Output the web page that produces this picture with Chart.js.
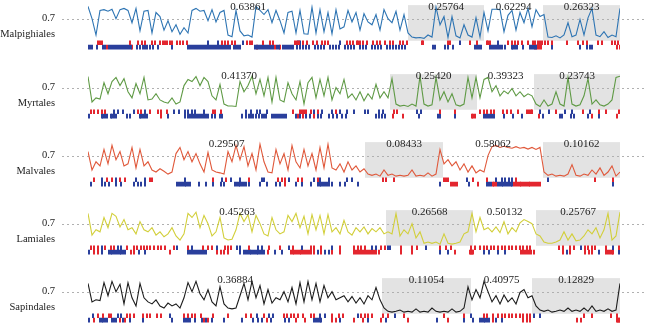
<!DOCTYPE html>
<html>
<head>
<meta charset="utf-8">
<script src="https://cdn.jsdelivr.net/npm/chart.js@4.4.1/dist/chart.umd.min.js"></script>
<style>
  html, body { margin: 0; padding: 0; background: #fff; overflow: hidden; }
  #wrap { position: relative; width: 645px; height: 324px; }
  #wrap canvas { position: absolute; left: 0; }
</style>
</head>
<body>
<div id="wrap">
  <canvas id="p1" width="645" height="68" style="top:0px"></canvas>
  <canvas id="p2" width="645" height="68" style="top:69px"></canvas>
  <canvas id="p3" width="645" height="68" style="top:137px"></canvas>
  <canvas id="p4" width="645" height="68" style="top:205px"></canvas>
  <canvas id="p5" width="645" height="68" style="top:273px"></canvas>
</div>
<script>
// sequence positions run 0..532, the score is sampled every 4 positions
const seqLength = 532;
const sampleStep = 4;

// ---- Malpighiales
const malpValues = [
  1.0, 0.7, 0.3, 0.9, 0.92, 0.88, 0.93, 0.7, 0.92, 0.95,
  0.9, 0.6, 0.95, 0.4, 0.88, 0.9, 0.35, 0.85, 0.75, 0.42,
  0.65, 0.38, 0.55, 0.32, 0.48, 0.35, 0.9, 0.95, 0.88, 0.9,
  0.65, 0.92, 0.62, 0.85, 0.9, 0.3, 0.26, 0.9, 0.4, 0.28,
  0.3, 0.25, 1.0, 0.9, 0.8, 0.92, 0.6, 0.9, 0.65, 0.35,
  0.85, 0.88, 0.35, 0.9, 0.33, 0.32, 0.98, 0.35, 0.92, 0.38,
  0.85, 0.33, 0.92, 0.45, 0.5, 0.9, 0.62, 0.85, 0.42, 0.82,
  0.62, 0.55, 0.8, 0.42, 0.92, 0.7, 0.6, 0.88, 0.42, 0.8,
  0.35, 0.25, 0.23, 0.24, 0.22, 0.3, 0.25, 0.98, 0.55, 0.75,
  0.24, 0.75, 0.28, 0.23, 0.55, 0.3, 0.25, 0.72, 0.25, 0.85,
  0.4, 0.93, 0.93, 0.92, 0.38, 0.78, 0.9, 0.42, 0.85, 0.6,
  0.95, 0.5, 0.92, 0.75, 0.8, 0.25, 0.24, 0.28, 0.23, 0.3,
  0.6, 0.26, 0.3, 0.68, 0.3, 0.72, 0.95, 0.3, 0.26, 0.38,
  0.24, 0.3, 0.26, 0.95
];
const malpRegions = [320, 396, 455, 532];
const malpMeans = ['0.63861', '0.25764', '0.62294', '0.26323'];
const malpTopRed = [10, 12, 14, 42, 50, 54, 57, 64, 67, 72, 75, 77, 79, 82, 84, 89, 92, 95, 99, 134, 137, 140, 144, 147, 159, 162, 164, 175, 182, 185, 207, 209, 211, 215, 219, 225, 229, 234, 237, 240, 259, 262, 265, 269, 270, 272, 275, 279, 285, 289, 292, 297, 302, 305, 312, 315, 319, 334, 335, 360, 362, 382, 389, 399, 400, 402, 420, 424, 427, 430, 434, 440, 445, 447, 450, 452, 454, 457, 460, 464, 479, 490, 495, 499, 510, 514, 524, 527, 530];
const malpTopBlue = [120, 130, 155, 210, 212, 252, 372, 410];
const malpBottomBlue = [0, 2, 4, 9, 15, 17, 21, 23, 25, 27, 29, 31, 33, 35, 37, 39, 41, 43, 49, 52, 55, 57, 59, 62, 65, 70, 84, 100, 102, 104, 106, 108, 110, 112, 114, 116, 118, 120, 122, 124, 126, 128, 130, 132, 134, 136, 138, 140, 142, 146, 148, 150, 152, 167, 169, 171, 173, 175, 177, 179, 181, 183, 185, 189, 191, 195, 197, 199, 201, 203, 205, 209, 212, 215, 218, 221, 227, 230, 233, 236, 242, 245, 248, 251, 257, 260, 263, 266, 272, 275, 278, 284, 287, 290, 293, 299, 302, 305, 308, 311, 314, 317, 345, 347, 357, 360, 365, 387, 389, 391, 393, 402, 404, 406, 408, 410, 412, 414, 417, 424, 425, 427, 429, 435, 442, 444, 446, 448, 464, 492, 499, 502, 504];
const malpBottomRed = [19, 44, 169, 187, 192, 447, 449, 451, 453, 529, 532];

// ---- Myrtales
const myrtValues = [
  0.97, 0.35, 0.45, 0.42, 0.82, 0.55, 0.85, 0.95, 0.75, 0.92,
  0.6, 0.45, 0.8, 0.55, 0.95, 0.4, 0.42, 0.55, 0.4, 0.35,
  0.32, 0.45, 0.3, 0.35, 0.75, 0.9, 0.85, 0.97, 0.75, 0.95,
  0.85, 0.5, 0.4, 0.78, 0.3, 0.25, 0.25, 0.24, 0.85, 0.6,
  0.75, 0.98, 0.55, 0.9, 0.5, 0.95, 0.35, 0.95, 0.4, 0.35,
  0.82, 0.55, 0.4, 0.85, 0.3, 0.82, 0.95, 0.45, 0.9, 0.5,
  0.95, 0.4, 0.7, 0.55, 0.9, 0.45, 0.55, 0.4, 0.6, 0.38,
  0.55, 0.42, 0.78, 0.45, 0.6, 0.45, 0.92, 0.3, 0.25, 0.27,
  0.24, 0.3, 0.25, 0.98, 0.3, 0.25, 0.28, 0.95, 0.4, 0.6,
  0.35, 0.55, 0.28, 0.25, 0.3, 0.95, 0.45, 0.95, 0.45, 0.9,
  0.95, 0.6, 0.75, 0.5, 0.62, 0.55, 0.68, 0.5, 0.6, 0.48,
  0.55, 0.5, 0.3, 0.24, 0.4, 0.25, 0.3, 0.6, 0.3, 0.25,
  0.95, 0.3, 0.25, 0.28, 0.5, 0.92, 0.3, 0.4, 0.28, 0.25,
  0.3, 0.4, 0.95, 0.98
];
const myrtRegions = [302, 389, 446, 532];
const myrtMeans = ['0.41370', '0.25420', '0.39323', '0.23743'];
const myrtTopRed = [3, 6, 10, 14, 17, 50, 53, 62, 70, 73, 79, 125, 127, 133, 205, 212, 214, 216, 218, 223, 230, 248, 306, 309, 352, 367, 392, 396, 399, 403, 406, 415, 419, 423, 430, 439, 441, 443, 444, 468, 495, 511, 518, 531];
const myrtTopBlue = [26, 30, 35, 46, 57, 86, 91, 97, 100, 104, 107, 116, 158, 163, 169, 172, 179, 226, 234, 244, 252, 259, 266, 277, 280, 291, 295, 329, 333, 452, 461, 477, 484, 502];
const myrtBottomBlue = [1, 14, 15, 17, 19, 23, 24, 26, 28, 39, 42, 52, 53, 55, 57, 59, 80, 97, 100, 102, 104, 106, 108, 110, 112, 114, 116, 118, 120, 124, 127, 132, 134, 154, 158, 161, 163, 165, 168, 171, 174, 176, 178, 184, 186, 188, 190, 192, 194, 196, 198, 208, 212, 218, 222, 230, 233, 241, 245, 249, 254, 258, 288, 291, 294, 297, 331, 350, 352, 367, 396, 398, 400, 402, 404, 406, 416, 425, 434, 455, 472, 474, 483, 486, 500, 511];
const myrtBottomRed = [73, 210, 215, 226, 305, 315, 384, 385, 387, 451, 504, 529];

// ---- Malvales
const malvValues = [
  0.8, 0.35, 0.55, 0.45, 0.85, 0.5, 0.95, 0.6, 0.8, 0.45,
  0.5, 0.9, 0.4, 0.85, 0.45, 0.55, 0.35, 0.3, 0.38, 0.32,
  0.25, 0.3, 0.75, 0.9, 0.6, 0.8, 0.55, 0.75, 0.5, 0.3,
  0.78, 0.35, 0.3, 0.28, 0.25, 0.8, 0.55, 0.95, 0.6, 0.92,
  0.45, 0.75, 0.35, 0.98, 0.55, 0.3, 0.28, 0.85, 0.5, 0.75,
  0.35, 0.95, 0.55, 0.4, 0.85, 0.45, 0.75, 0.35, 0.9, 0.4,
  0.98, 0.4, 0.35, 0.5, 0.3, 0.55, 0.35, 0.45, 0.3, 0.38,
  0.25, 0.22, 0.25, 0.2, 0.35, 0.22, 0.25, 0.2, 0.22, 0.2,
  0.22, 0.35, 0.2, 0.22, 0.2, 0.28, 0.2, 0.25, 0.85, 0.5,
  0.6, 0.45, 0.55, 0.35, 0.5, 0.3, 0.45, 0.28, 0.35, 0.3,
  0.7, 0.92, 0.95, 0.9, 0.93, 0.9, 0.88, 0.92, 0.88, 0.9,
  0.86, 0.9, 0.85, 0.9, 0.3, 0.22, 0.25, 0.2, 0.22, 0.2,
  0.25, 0.48, 0.22, 0.2, 0.25, 0.22, 0.35, 0.25, 0.4, 0.22,
  0.3, 0.45, 0.2, 0.3
];
const malvRegions = [277, 355, 455, 532];
const malvMeans = ['0.29507', '0.08433', '0.58062', '0.10162'];
const malvTopRed = [6, 19, 24, 32, 37, 62, 64, 125, 138, 161, 190, 194, 197, 210, 214, 230, 295, 298, 306, 356, 358, 360, 385, 399, 428, 507, 525];
const malvTopBlue = [14, 28, 48, 57, 97, 134, 143, 152, 174, 176, 201, 226, 232, 241, 259, 264, 379, 408, 414, 417, 421, 424, 460];
const malvBottomBlue = [3, 14, 17, 21, 28, 33, 46, 50, 53, 57, 89, 91, 93, 95, 97, 98, 100, 102, 111, 118, 125, 133, 136, 147, 149, 151, 152, 154, 156, 158, 161, 172, 179, 188, 192, 208, 214, 223, 230, 232, 233, 235, 237, 239, 241, 244, 252, 257, 270, 352, 381, 399, 401, 403, 410, 412, 414, 415, 417, 419, 421, 423, 424, 525];
const malvBottomRed = [197, 363, 365, 367, 369, 390, 405, 406, 408, 426, 428, 430, 432, 433, 435, 437, 439, 441, 442, 444, 446, 448, 450, 452];

// ---- Lamiales
const lamiValues = [
  0.95, 0.42, 0.55, 0.5, 0.85, 0.6, 0.95, 0.88, 0.62, 0.8,
  0.55, 0.6, 0.45, 0.75, 0.55, 0.5, 0.6, 0.42, 0.5, 0.38,
  0.45, 0.6, 0.4, 0.3, 0.45, 0.95, 0.85, 0.98, 0.6, 0.9,
  0.7, 0.4, 0.5, 0.85, 0.35, 0.3, 0.32, 0.55, 0.95, 0.75,
  0.92, 0.5, 0.9, 0.7, 0.45, 0.4, 0.85, 0.55, 0.45, 0.5,
  0.9, 0.75, 0.95, 0.6, 0.88, 0.45, 0.92, 0.55, 0.9, 0.45,
  0.92, 0.5, 0.6, 0.45, 0.78, 0.5, 0.42, 0.6, 0.5, 0.62,
  0.45, 0.58, 0.5, 0.6, 0.45, 0.5, 0.45, 0.95, 0.4, 0.55,
  0.45, 0.7, 0.35, 0.5, 0.22, 0.25, 0.22, 0.25, 0.2, 0.45,
  0.22, 0.2, 0.22, 0.25, 0.45, 0.5, 0.95, 0.5, 0.85, 0.55,
  0.6, 0.5, 0.62, 0.48, 0.75, 0.45, 0.6, 0.5, 0.72, 0.8,
  0.75, 0.7, 0.45, 0.4, 0.25, 0.22, 0.22, 0.25, 0.3, 0.5,
  0.3, 0.45, 0.28, 0.3, 0.4, 0.55, 0.45, 0.6, 0.35, 0.55,
  0.95, 0.3, 0.4, 0.98
];
const lamiRegions = [298, 385, 448, 532];
const lamiMeans = ['0.45263', '0.26568', '0.50132', '0.25767'];
const lamiTopRed = [3, 6, 10, 17, 23, 26, 39, 46, 49, 53, 56, 59, 62, 66, 70, 73, 77, 86, 100, 115, 120, 124, 137, 140, 143, 161, 181, 192, 205, 223, 226, 233, 252, 266, 270, 273, 277, 293, 297, 313, 324, 329, 352, 358, 363, 383, 387, 392, 396, 399, 403, 406, 410, 414, 417, 421, 424, 428, 432, 435, 439, 442, 471, 475, 482, 486, 497, 500, 504, 507, 518, 531];
const lamiTopBlue = [14, 30, 33, 89, 104, 129, 149, 152, 170, 174, 201, 214, 244, 284, 288, 300, 302, 338, 493, 525];
const lamiBottomBlue = [1, 14, 21, 23, 24, 26, 28, 30, 32, 33, 35, 37, 51, 57, 100, 102, 104, 106, 108, 110, 112, 114, 116, 118, 152, 156, 158, 160, 162, 163, 165, 167, 169, 170, 172, 174, 176, 187, 194, 230, 237, 241, 352, 360, 396, 401, 410, 417, 479, 511, 531];
const lamiBottomRed = [6, 10, 43, 46, 82, 129, 133, 136, 140, 180, 203, 205, 206, 208, 210, 212, 213, 215, 217, 219, 221, 223, 226, 233, 244, 252, 266, 268, 270, 272, 274, 276, 278, 280, 282, 284, 286, 288, 291, 313, 324, 367, 382, 383, 384, 385, 433, 435, 437, 439, 441, 443, 446, 475, 482, 497, 501, 504, 518, 520, 522, 524, 525];

// ---- Sapindales
const sapiValues = [
  0.9, 0.45, 0.5, 0.48, 0.92, 0.6, 0.95, 0.7, 0.88, 0.4,
  0.92, 0.55, 0.35, 0.9, 0.55, 0.45, 0.4, 0.5, 0.35, 0.3,
  0.42, 0.35, 0.4, 0.3, 0.55, 0.92, 0.7, 0.95, 0.65, 0.5,
  0.75, 0.45, 0.35, 0.82, 0.4, 0.3, 0.28, 0.3, 0.6, 0.9,
  0.5, 0.95, 0.55, 0.85, 0.4, 0.75, 0.42, 0.55, 0.5, 0.7,
  0.45, 0.8, 0.4, 0.92, 0.45, 0.95, 0.5, 0.9, 0.45, 0.85,
  0.55, 0.7, 0.5, 0.55, 0.6, 0.45, 0.58, 0.42, 0.55, 0.4,
  0.6, 0.5, 0.8, 0.5, 0.3, 0.22, 0.2, 0.22, 0.25, 0.2,
  0.22, 0.2, 0.28, 0.2, 0.22, 0.2, 0.3, 0.22, 0.2, 0.22,
  0.2, 0.28, 0.2, 0.22, 0.3, 0.82, 0.5, 0.75, 0.55, 0.95,
  0.7, 0.45, 0.6, 0.4, 0.62, 0.45, 0.55, 0.4, 0.68, 0.75,
  0.55, 0.6, 0.35, 0.25, 0.22, 0.25, 0.2, 0.22, 0.25, 0.22,
  0.3, 0.22, 0.25, 0.22, 0.3, 0.22, 0.35, 0.22, 0.25, 0.22,
  0.28, 0.22, 0.25, 0.9
];
const sapiRegions = [294, 383, 444, 532];
const sapiMeans = ['0.36884', '0.11054', '0.40975', '0.12829'];
const sapiTopRed = [10, 15, 21, 23, 39, 42, 46, 55, 59, 62, 69, 73, 96, 100, 104, 107, 113, 125, 140, 158, 163, 176, 196, 199, 203, 206, 210, 215, 223, 226, 244, 251, 255, 273, 277, 280, 284, 295, 300, 316, 356, 376, 396, 399, 405, 410, 414, 417, 421, 424, 428, 432, 435, 439, 442, 496, 504, 523, 529];
const sapiTopBlue = [5, 30, 33, 82, 169, 181, 185, 232, 237, 270, 307, 383, 446, 452];
const sapiBottomBlue = [1, 12, 14, 15, 17, 19, 24, 26, 28, 35, 42, 55, 84, 96, 98, 100, 102, 107, 114, 118, 124, 136, 154, 165, 170, 174, 183, 197, 201, 226, 228, 230, 232, 233, 252, 280, 298, 349, 376, 385, 392, 394, 396, 397, 399, 401, 408, 414];
const sapiBottomRed = [6, 32, 37, 116, 120, 179, 208, 217, 244, 248, 266, 275, 293, 320, 360, 405, 435, 439, 442, 489, 493, 529, 530, 531, 532];

const lineColors = ['#2d74b3', '#5f9a45', '#e0583a', '#d2cf3a', '#1c1c1c'];
const tickRed = '#e3262f';
const tickBlue = '#2a3f9c';
const shade = '#e3e3e3';

// grey blocks, the dotted 0.7 line and all the text around each strip
const panelDecor = {
    id: 'panelDecor',
    beforeDatasetsDraw(chart, args, opts) {
        const { ctx, chartArea } = chart;
        const x = chart.scales.x, y = chart.scales.y;
        ctx.save();
        ctx.fillStyle = shade;
        const yTop = y.getPixelForValue(1.03), yBot = y.getPixelForValue(0.16);
        for (let k = 0; k < opts.regions.length; k += 2) {
            const x1 = x.getPixelForValue(opts.regions[k]);
            const x2 = x.getPixelForValue(opts.regions[k + 1]);
            ctx.fillRect(x1, yTop, x2 - x1, yBot - yTop);
        }
        const yRef = Math.round(y.getPixelForValue(0.7)) + 0.5;
        ctx.strokeStyle = '#b0b0b0';
        ctx.lineWidth = 1;
        ctx.setLineDash([2, 3]);
        ctx.beginPath();
        ctx.moveTo(chartArea.left - 26, yRef);
        ctx.lineTo(chart.width, yRef);
        ctx.stroke();
        ctx.restore();
    },
    afterDraw(chart, args, opts) {
        const { ctx, chartArea } = chart;
        const x = chart.scales.x, y = chart.scales.y;
        ctx.save();
        ctx.fillStyle = '#222';
        ctx.font = '10.5px "Liberation Serif", "DejaVu Serif", serif';
        ctx.textAlign = 'right';
        ctx.textBaseline = 'middle';
        const yRef = y.getPixelForValue(0.7);
        ctx.fillText('0.7', 55, yRef);
        ctx.fillText(opts.name, 55, yRef + 16);

        // mean of each stretch, centred over it
        ctx.font = '11px "Liberation Serif", "DejaVu Serif", serif';
        ctx.textAlign = 'center';
        const bounds = [0, ...opts.regions.slice(0, 3), seqLength];
        const yText = y.getPixelForValue(0.98);
        opts.means.forEach((m, i) => {
            const cx = (x.getPixelForValue(bounds[i]) + x.getPixelForValue(bounds[i + 1])) / 2;
            ctx.fillText(m, cx, yText);
        });
        ctx.restore();
    }
};

function tickSet(positions, row, color) {
    return {
        type: 'scatter',
        data: positions.map(p => ({ x: p, y: row })),
        yAxisID: 'yt',
        pointStyle: 'line',
        pointRotation: 90,
        pointRadius: 2.3,
        pointHoverRadius: 2.3,
        pointBorderWidth: 2,
        pointBorderColor: color,
        pointBackgroundColor: color,
        borderColor: color,
        showLine: false
    };
}

function drawPanel(id, name, values, regions, means, topRed, topBlue, bottomBlue, bottomRed, color) {
    new Chart(document.getElementById(id), {
        type: 'line',
        data: {
            datasets: [
                {
                    data: values.map((v, i) => ({ x: i * sampleStep, y: v })),
                    borderColor: color,
                    borderWidth: 1.1,
                    pointRadius: 0,
                    tension: 0,
                    fill: false,
                    yAxisID: 'y'
                },
                tickSet(topRed, 1, tickRed),
                tickSet(topBlue, 1, tickBlue),
                tickSet(bottomBlue, 0, tickBlue),
                tickSet(bottomRed, 0, tickRed)
            ]
        },
        options: {
            responsive: false,
            animation: false,
            devicePixelRatio: 1,
            events: [],
            layout: { padding: { left: 88, right: 25, top: 0, bottom: 0 } },
            scales: {
                x: { type: 'linear', min: 0, max: seqLength, display: false },
                y: { min: -0.4, max: 1.05, display: false },
                yt: { min: -3.8, max: 9.8, display: false }
            },
            plugins: {
                legend: { display: false },
                tooltip: { enabled: false },
                panelDecor: { name: name, regions: regions, means: means }
            }
        },
        plugins: [panelDecor]
    });
}

drawPanel('p1', 'Malpighiales', malpValues, malpRegions, malpMeans, malpTopRed, malpTopBlue, malpBottomBlue, malpBottomRed, lineColors[0]);
drawPanel('p2', 'Myrtales', myrtValues, myrtRegions, myrtMeans, myrtTopRed, myrtTopBlue, myrtBottomBlue, myrtBottomRed, lineColors[1]);
drawPanel('p3', 'Malvales', malvValues, malvRegions, malvMeans, malvTopRed, malvTopBlue, malvBottomBlue, malvBottomRed, lineColors[2]);
drawPanel('p4', 'Lamiales', lamiValues, lamiRegions, lamiMeans, lamiTopRed, lamiTopBlue, lamiBottomBlue, lamiBottomRed, lineColors[3]);
drawPanel('p5', 'Sapindales', sapiValues, sapiRegions, sapiMeans, sapiTopRed, sapiTopBlue, sapiBottomBlue, sapiBottomRed, lineColors[4]);
</script>
</body>
</html>
